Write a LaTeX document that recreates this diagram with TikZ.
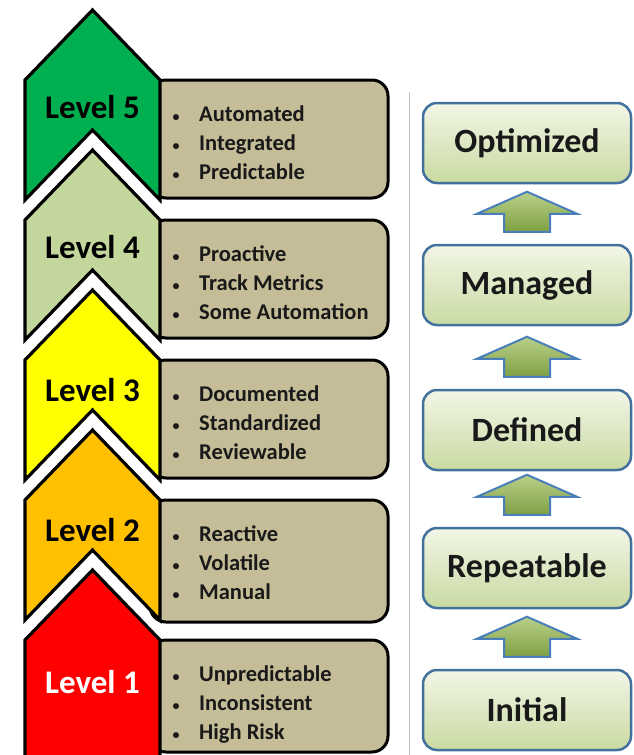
\documentclass[tikz,border=0pt]{standalone}
\usepackage{fontspec}
\setmainfont{Carlito}
\usetikzlibrary{calc}
\definecolor{lvA}{HTML}{FF0000}
\definecolor{lvB}{HTML}{FFC000}
\definecolor{lvC}{HTML}{FFFF00}
\definecolor{lvD}{HTML}{C3D69B}
\definecolor{lvE}{HTML}{00B050}
\definecolor{tanfill}{HTML}{C4BD97}
\definecolor{stageblue}{HTML}{41719C}
\definecolor{stagetop}{HTML}{F2F6E6}
\definecolor{stagebot}{HTML}{C9DAA2}
\definecolor{arrtop}{HTML}{B9D08A}
\definecolor{arrbot}{HTML}{7FA043}
\definecolor{arrblue}{HTML}{4A7EBB}
\begin{document}
\begin{tikzpicture}[x=1pt,y=1pt,
  chev/.style={draw=black,line width=3.2pt,line join=miter},
  tanbox/.style={draw=black,line width=3pt,fill=tanfill,rounded corners=16pt},
  lvltext/.style={font=\bfseries\fontsize{33}{38}\selectfont,anchor=base,inner sep=0pt},
  itemtext/.style={font=\bfseries\fontsize{22.5}{26}\selectfont,anchor=base west,inner sep=0pt,text=black!90},
  bullettext/.style={font=\bfseries\fontsize{14}{16}\selectfont,anchor=base,inner sep=0pt,text=black!90},
  stage/.style={draw=stageblue,line width=2.5pt,rounded corners=14pt,top color=stagetop,bottom color=stagebot,
    minimum width=208pt,minimum height=80pt,inner sep=0pt,font=\bfseries\fontsize{34}{40}\selectfont,text=black!90},
  uparr/.style={draw=arrblue,line width=2pt,top color=arrtop,bottom color=arrbot,line join=miter}
]
\useasboundingbox (0,0) rectangle (633,-755);
\fill[white] (0,0) rectangle (633,-755);
% panel edge
\draw[black!25,line width=1pt] (409,-92) -- (409,-755);

% tan boxes and chevrons
\foreach \k/\t/\bt/\nt/\bb/\c/\tc/\lo/\a/\b/\d in {
  5/10/200/130/198/lvE/black/108/Automated/Integrated/Predictable,
  4/150/340/270/338/lvD/black/108/Proactive/Track Metrics/Some Automation,
  3/290/480/410/478/lvC/black/111/Documented/Standardized/Reviewable,
  2/430/620/550/622/lvB/black/111/Reactive/Volatile/Manual,
  1/570/765/765/752/lvA/white/123/Unpredictable/Inconsistent/High Risk}{
  \draw[tanbox] (150,{-\t-70}) rectangle (388,{-\bb});
  \draw[chev,fill=\c] (92.5,-\t) -- (160,{-\t-70}) -- (160,-\bt) -- (92.5,-\nt)
     -- (25,-\bt) -- (25,{-\t-70}) -- cycle;
  \node[lvltext,text=\tc] (lvl\k) at (92.5,{-\t-\lo}) {Level \k};
  \node[bullettext] (ba\k) at (176,{-\t-111}) {•};
  \node[bullettext] (bb\k) at (176,{-\t-140}) {•};
  \node[bullettext] (bc\k) at (176,{-\t-169}) {•};
  \node[itemtext] (ia\k) at (199,{-\t-111}) {\a};
  \node[itemtext] (ib\k) at (199,{-\t-140}) {\b};
  \node[itemtext] (ic\k) at (199,{-\t-169}) {\d};
}

% right column
\node[stage] (opt) at (527,-143) {Optimized};
\node[stage] (man) at (527,-285) {Managed};
\node[stage] (def) at (527,-430) {Defined};
\node[stage] (rep) at (527,-568) {Repeatable};
\node[stage] (ini) at (527,-710) {Initial};

\foreach \lo in {man,def,rep,ini}{
  \draw[uparr] ($(\lo.north)+(-23,12)$) -- ($(\lo.north)+(23,12)$) -- ($(\lo.north)+(23,30)$)
    -- ($(\lo.north)+(50,30)$) -- ($(\lo.north)+(0,52)$) -- ($(\lo.north)+(-50,30)$)
    -- ($(\lo.north)+(-23,30)$) -- cycle;
}
\end{tikzpicture}
\end{document}
